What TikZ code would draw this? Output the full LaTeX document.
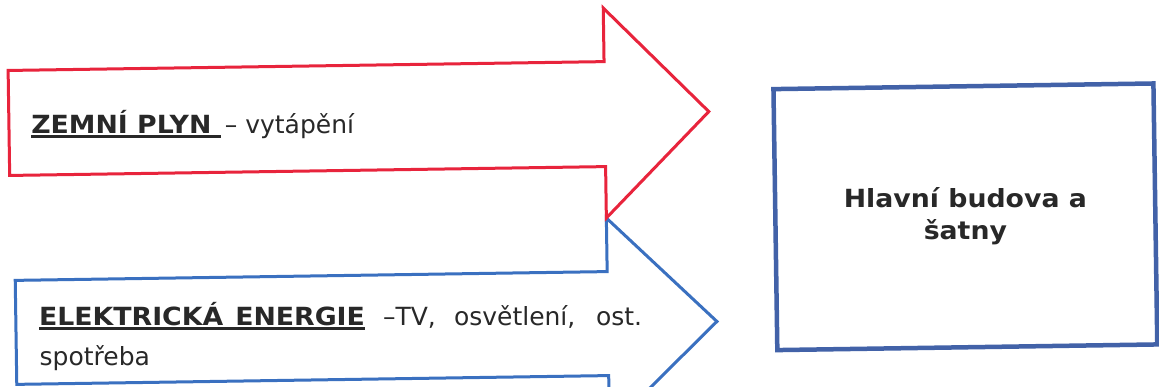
\documentclass[tikz,border=0pt]{standalone}
\usepackage{fontspec}
\setmainfont{DejaVu Sans}
\newfontfamily\vbold{DejaVu Sans Bold}[FakeStretch=1.07]
\definecolor{redline}{RGB}{232,36,60}
\definecolor{blueline}{RGB}{58,112,192}
\definecolor{boxblue}{RGB}{66,98,168}
\definecolor{txt}{RGB}{40,40,40}
\newcommand\ulbold[1]{\setbox0=\hbox{\vbold #1}\rlap{\rule[-4.5pt]{\wd0}{2.2pt}}\box0\relax}
\tikzset{
  redarrow/.style={draw=redline, line width=3pt, fill=white, line join=miter},
  bluearrow/.style={draw=blueline, line width=3pt, fill=white, line join=miter},
  target/.style={draw=boxblue, line width=4.5pt, fill=white},
  label/.style={inner sep=0pt, text=txt, font=\fontsize{25}{30}\selectfont},
}
\begin{document}
\begin{tikzpicture}[x=1pt,y=1pt]
\useasboundingbox (0,0) rectangle (1159,387);
\clip (0,0) rectangle (1159,387);
\fill[white] (0,0) rectangle (1159,387);
\begin{scope}[rotate around={0.85:(580,193)}]
  % blue arrow (drawn first, red overlaps at the meeting corner)
  \draw[bluearrow] (14,115) -- (606,115) -- (606,168.6) -- (715,63.5) -- (606,-41.5) -- (606,11) -- (14,11) -- cycle;
  % red arrow
  \draw[redarrow] (10,325) -- (606,325) -- (606,378.6) -- (710,273.5) -- (606,168.6) -- (606,220) -- (10,220) -- cycle;
  % target box
  \draw[target] (775,295) rectangle (1155,34);
  \node[label, anchor=base west] (gas) at (32,262) {\ulbold{ZEMNÍ PLYN\ }\,– vytápění};
  \node[label, anchor=base west] (elec1) at (37,70) {\makebox[603pt][s]{\ulbold{ELEKTRICKÁ\hspace{12pt}ENERGIE} –TV, osvětlení, ost.}};
  \node[label, anchor=base west] (elec2) at (37,30) {spotřeba};
  \node[label, align=center, font=\vbold\fontsize{25}{32.5}\selectfont] (bldg) at (965,165) {Hlavní budova a\\šatny};
\end{scope}
\end{tikzpicture}
\end{document}
